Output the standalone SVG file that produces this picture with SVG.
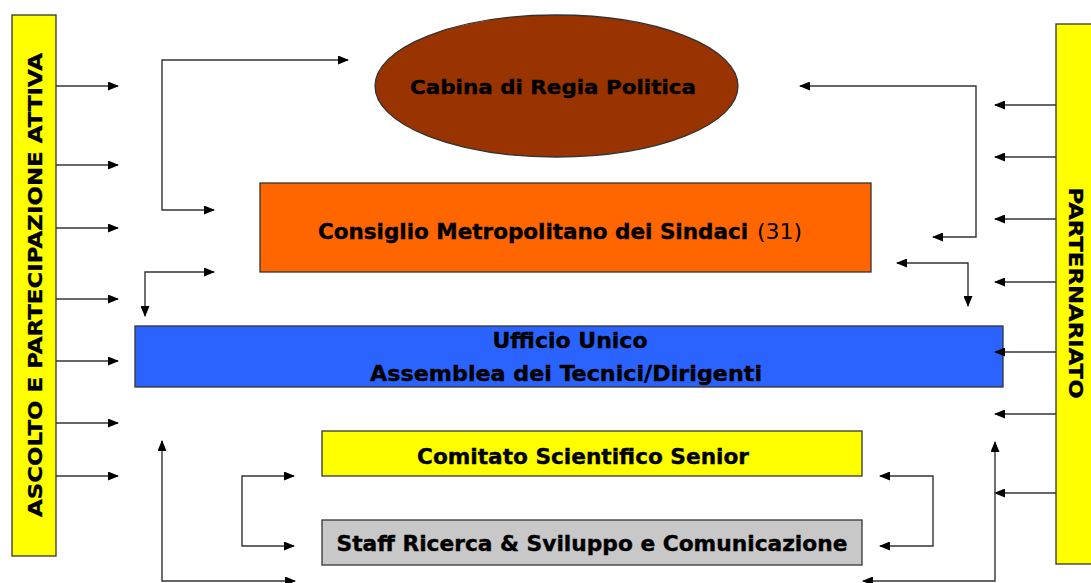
<svg xmlns="http://www.w3.org/2000/svg" width="1091" height="583" viewBox="0 0 1091 583">
<defs>
<marker id="ah" markerUnits="userSpaceOnUse" markerWidth="11" markerHeight="9" refX="10" refY="4.5" orient="auto-start-reverse" viewBox="0 0 11 9">
<path d="M0,0 L11,4.5 L0,9 z" fill="#000"/>
</marker>
<style>
.box{stroke:#333;stroke-width:1.3}
.c{fill:none;stroke:#333;stroke-width:1.4}
.e{marker-end:url(#ah)}
.b{marker-start:url(#ah);marker-end:url(#ah)}
.t{font-family:"DejaVu Sans Condensed","DejaVu Sans",sans-serif;font-weight:bold;font-size:21px;fill:#000;stroke:#000;stroke-width:0.35}
.tw{font-family:"DejaVu Sans","Liberation Sans",sans-serif;font-weight:bold;font-size:20px;fill:#000;stroke:#000;stroke-width:0.35}
.tn{font-family:"DejaVu Sans Condensed","DejaVu Sans",sans-serif;font-weight:normal;font-size:21px;fill:#000}
</style>
</defs>
<rect width="1091" height="583" fill="#fff"/>
<g id="ascolto">
<rect class="box" x="12" y="15" width="44" height="541" fill="#FFFF00"/>
<text class="tw" transform="translate(42,285) rotate(-90)" text-anchor="middle" textLength="464" lengthAdjust="spacingAndGlyphs">ASCOLTO E PARTECIPAZIONE ATTIVA</text>
</g>
<g id="partenariato">
<rect class="box" x="1056" y="24" width="40" height="540" fill="#FFFF00"/>
<text class="tw" transform="translate(1069,293) rotate(90)" text-anchor="middle" textLength="211" lengthAdjust="spacingAndGlyphs">PARTERNARIATO</text>
</g>
<g id="cabina">
<ellipse class="box" cx="556.5" cy="86" rx="181.5" ry="71" fill="#993300"/>
<text class="tw" x="553" y="94" text-anchor="middle" textLength="286" lengthAdjust="spacingAndGlyphs">Cabina di Regia Politica</text>
</g>
<g id="consiglio">
<rect class="box" x="260" y="183" width="611" height="89" fill="#FF6600"/>
<text class="t" x="318" y="239" textLength="430" lengthAdjust="spacingAndGlyphs">Consiglio Metropolitano dei Sindaci</text>
<text class="tn" x="757" y="239" textLength="45" lengthAdjust="spacingAndGlyphs">(31)</text>
</g>
<g id="ufficio">
<rect class="box" x="135" y="326" width="868" height="61" fill="#2B63FF"/>
<text class="t" x="570" y="348" text-anchor="middle" textLength="155" lengthAdjust="spacingAndGlyphs">Ufficio Unico</text>
<text class="t" x="566" y="381" text-anchor="middle" textLength="392" lengthAdjust="spacingAndGlyphs">Assemblea dei Tecnici/Dirigenti</text>
</g>
<g id="comitato">
<rect class="box" x="322" y="431" width="540" height="45" fill="#FFFF00"/>
<text class="t" x="583" y="464" text-anchor="middle" textLength="332" lengthAdjust="spacingAndGlyphs">Comitato Scientifico Senior</text>
</g>
<g id="staff">
<rect class="box" x="322" y="520" width="540" height="45" fill="#C8C8C8"/>
<text class="t" x="592" y="551" text-anchor="middle" textLength="511" lengthAdjust="spacingAndGlyphs">Staff Ricerca &amp; Sviluppo e Comunicazione</text>
</g>
<g id="connectors">
<path class="c e" d="M56,86 H118"/>
<path class="c e" d="M56,165 H118"/>
<path class="c e" d="M56,228 H118"/>
<path class="c e" d="M56,299 H118"/>
<path class="c e" d="M56,361 H118"/>
<path class="c e" d="M56,423 H118"/>
<path class="c e" d="M56,476 H118"/>
<path class="c e" d="M1056,105 H995"/>
<path class="c e" d="M1056,157 H995"/>
<path class="c e" d="M1056,219 H995"/>
<path class="c e" d="M1056,282 H995"/>
<path class="c e" d="M1056,352 H995"/>
<path class="c e" d="M1056,414 H995"/>
<path class="c e" d="M1056,493 H995"/>
<path class="c b" d="M348,60 H162 V210 H214"/>
<path class="c b" d="M800,86 H976 V237 H933"/>
<path class="c b" d="M214,272 H145 V316"/>
<path class="c b" d="M897,263 H968 V306"/>
<path class="c b" d="M294,476 H242 V546 H294"/>
<path class="c b" d="M880,476 H933 V546 H880"/>
<path class="c b" d="M162,441 V581 H295"/>
<path class="c b" d="M995,442 V581 H863"/>
</g>
</svg>
